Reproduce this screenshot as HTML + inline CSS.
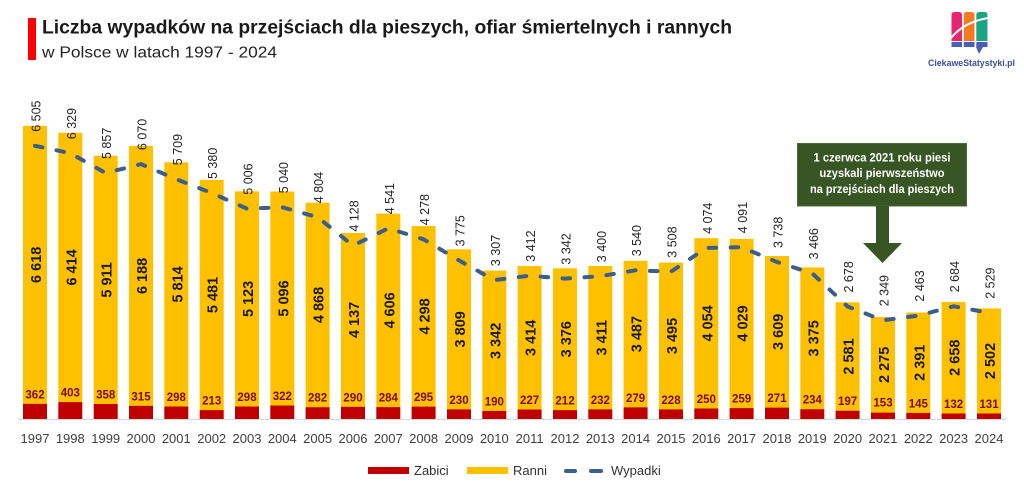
<!DOCTYPE html>
<html><head><meta charset="utf-8"><style>
html,body{margin:0;padding:0;background:#fff;}
svg{display:block;}
text{font-family:"Liberation Sans",sans-serif;}
.w{font-size:12.5px;fill:#262626;}
.r{font-size:14.5px;font-weight:bold;fill:#1a1a1a;text-anchor:middle;}
.z{font-size:11.5px;font-weight:bold;fill:#7a0c0c;text-anchor:middle;}
.y{font-size:13px;fill:#404040;text-anchor:middle;}
</style></head><body>
<svg width="1024" height="494" viewBox="0 0 1024 494" xmlns="http://www.w3.org/2000/svg">
<rect width="1024" height="494" fill="#fff"/>
<!-- title -->
<rect x="28" y="18" width="8" height="42" fill="#ff0000"/>
<text x="42" y="33.3" font-size="19" font-weight="bold" fill="#1a1a1a" textLength="690" lengthAdjust="spacingAndGlyphs">Liczba wypadków na przejściach dla pieszych, ofiar śmiertelnych i rannych</text>
<text x="42" y="57.3" font-size="16" fill="#222" textLength="235" lengthAdjust="spacingAndGlyphs">w Polsce w latach 1997 - 2024</text>
<!-- logo -->
<g>
<path d="M951.5 41 V15 Q951.5 12 954.5 12 H959 Q962 12 962 15 V41 Z" fill="#e5256f"/>
<path d="M963.8 41 V15 Q963.8 12 966.8 12 H971.5 Q974.5 12 974.5 15 V41 Z" fill="#f47b20"/>
<path d="M976.3 41 V15 Q976.3 12 979.3 12 H984.5 Q987.5 12 987.5 15 V41 Z" fill="#1aa585"/>
<rect x="951.5" y="42" width="10.5" height="5" fill="#4a5fb5"/>
<rect x="963.8" y="42" width="10.7" height="5" fill="#4a5fb5"/>
<rect x="976.3" y="42" width="11.2" height="5" fill="#4a5fb5"/>
<path d="M976 47 L983 47 L979 54 Z" fill="#4a5fb5"/>
<path d="M951 38 Q964 22 988 18" stroke="#fff" stroke-width="2" fill="none"/>
<text x="928" y="66" font-size="9.5" font-weight="bold" fill="#3d4f9a" textLength="87" lengthAdjust="spacingAndGlyphs">CiekaweStatystyki.pl</text>
</g>
<!-- axis -->
<line x1="18" y1="419.5" x2="1006" y2="419.5" stroke="#d9d9d9" stroke-width="1"/>
<!-- yellow bars -->
<g fill="#ffc000">
<rect x="23" y="125.8" width="24" height="278"/>
<rect x="58.3" y="132.7" width="24" height="269.4"/>
<rect x="93.7" y="155.7" width="24" height="248.3"/>
<rect x="129" y="145.9" width="24" height="259.9"/>
<rect x="164.3" y="162.3" width="24" height="244.2"/>
<rect x="199.7" y="179.9" width="24" height="230.2"/>
<rect x="235" y="191.3" width="24" height="215.2"/>
<rect x="270.3" y="191.5" width="24" height="214"/>
<rect x="305.6" y="202.7" width="24" height="204.5"/>
<rect x="341" y="233" width="24" height="173.8"/>
<rect x="376.3" y="213.6" width="24" height="193.5"/>
<rect x="411.6" y="226.1" width="24" height="180.5"/>
<rect x="447" y="249.3" width="24" height="160"/>
<rect x="482.3" y="270.6" width="24" height="140.4"/>
<rect x="517.6" y="266.1" width="24" height="143.4"/>
<rect x="553" y="268.3" width="24" height="141.8"/>
<rect x="588.3" y="266" width="24" height="143.3"/>
<rect x="623.6" y="260.8" width="24" height="146.5"/>
<rect x="659" y="262.6" width="24" height="146.8"/>
<rect x="694.3" y="238.2" width="24" height="170.3"/>
<rect x="729.6" y="238.9" width="24" height="169.2"/>
<rect x="765" y="256" width="24" height="151.6"/>
<rect x="800.3" y="267.4" width="24" height="141.8"/>
<rect x="835.6" y="302.3" width="24" height="108.4"/>
<rect x="871" y="317" width="24" height="95.6"/>
<rect x="906.3" y="312.5" width="24" height="100.4"/>
<rect x="941.6" y="301.9" width="24" height="111.6"/>
<rect x="977" y="308.4" width="24" height="105.1"/>
</g>
<!-- red bars -->
<g fill="#c00000">
<rect x="23" y="403.8" width="24" height="15.2"/>
<rect x="58.3" y="402.1" width="24" height="16.9"/>
<rect x="93.7" y="404" width="24" height="15"/>
<rect x="129" y="405.8" width="24" height="13.2"/>
<rect x="164.3" y="406.5" width="24" height="12.5"/>
<rect x="199.7" y="410.1" width="24" height="8.9"/>
<rect x="235" y="406.5" width="24" height="12.5"/>
<rect x="270.3" y="405.5" width="24" height="13.5"/>
<rect x="305.6" y="407.2" width="24" height="11.8"/>
<rect x="341" y="406.8" width="24" height="12.2"/>
<rect x="376.3" y="407.1" width="24" height="11.9"/>
<rect x="411.6" y="406.6" width="24" height="12.4"/>
<rect x="447" y="409.3" width="24" height="9.7"/>
<rect x="482.3" y="411" width="24" height="8"/>
<rect x="517.6" y="409.5" width="24" height="9.5"/>
<rect x="553" y="410.1" width="24" height="8.9"/>
<rect x="588.3" y="409.3" width="24" height="9.7"/>
<rect x="623.6" y="407.3" width="24" height="11.7"/>
<rect x="659" y="409.4" width="24" height="9.6"/>
<rect x="694.3" y="408.5" width="24" height="10.5"/>
<rect x="729.6" y="408.1" width="24" height="10.9"/>
<rect x="765" y="407.6" width="24" height="11.4"/>
<rect x="800.3" y="409.2" width="24" height="9.8"/>
<rect x="835.6" y="410.7" width="24" height="8.3"/>
<rect x="871" y="412.6" width="24" height="6.4"/>
<rect x="906.3" y="412.9" width="24" height="6.1"/>
<rect x="941.6" y="413.5" width="24" height="5.5"/>
<rect x="977" y="413.5" width="24" height="5.5"/>
</g>
<!-- wypadki line -->
<polyline fill="none" stroke="#3b5e8c" stroke-width="4" stroke-linecap="round" stroke-dasharray="7.5 14.5" points="35,145.8 70.3,153.2 105.7,173 141,164.1 176.3,179.2 211.7,193 247,208.7 282.3,207.3 317.6,217.2 353,245.6 388.3,228.3 423.6,239.3 459,260.4 494.3,280.1 529.6,275.7 565,278.6 600.3,276.2 635.6,270.3 671,271.7 706.3,247.9 741.6,247.2 777,262 812.3,273.4 847.6,306.5 883,320.3 918.3,315.6 953.6,306.3 989,312.8"/>
<!-- wypadki labels -->
<text class="w" transform="translate(40.5,131.8) rotate(-90)">6 505</text>
<text class="w" transform="translate(75.8,139.2) rotate(-90)">6 329</text>
<text class="w" transform="translate(111.2,159) rotate(-90)">5 857</text>
<text class="w" transform="translate(146.5,150.1) rotate(-90)">6 070</text>
<text class="w" transform="translate(181.8,165.2) rotate(-90)">5 709</text>
<text class="w" transform="translate(217.2,179) rotate(-90)">5 380</text>
<text class="w" transform="translate(252.5,194.7) rotate(-90)">5 006</text>
<text class="w" transform="translate(287.8,193.3) rotate(-90)">5 040</text>
<text class="w" transform="translate(323.1,203.2) rotate(-90)">4 804</text>
<text class="w" transform="translate(358.5,231.6) rotate(-90)">4 128</text>
<text class="w" transform="translate(393.8,214.3) rotate(-90)">4 541</text>
<text class="w" transform="translate(429.1,225.3) rotate(-90)">4 278</text>
<text class="w" transform="translate(464.5,246.4) rotate(-90)">3 775</text>
<text class="w" transform="translate(499.8,266.1) rotate(-90)">3 307</text>
<text class="w" transform="translate(535.1,261.7) rotate(-90)">3 412</text>
<text class="w" transform="translate(570.5,264.6) rotate(-90)">3 342</text>
<text class="w" transform="translate(605.8,262.2) rotate(-90)">3 400</text>
<text class="w" transform="translate(641.1,256.3) rotate(-90)">3 540</text>
<text class="w" transform="translate(676.5,257.7) rotate(-90)">3 508</text>
<text class="w" transform="translate(711.8,233.9) rotate(-90)">4 074</text>
<text class="w" transform="translate(747.1,233.2) rotate(-90)">4 091</text>
<text class="w" transform="translate(782.5,248) rotate(-90)">3 738</text>
<text class="w" transform="translate(817.8,259.4) rotate(-90)">3 466</text>
<text class="w" transform="translate(853.1,292.5) rotate(-90)">2 678</text>
<text class="w" transform="translate(888.5,306.3) rotate(-90)">2 349</text>
<text class="w" transform="translate(923.8,301.6) rotate(-90)">2 463</text>
<text class="w" transform="translate(959.1,292.3) rotate(-90)">2 684</text>
<text class="w" transform="translate(994.5,298.8) rotate(-90)">2 529</text>
<!-- ranni labels -->
<text class="r" transform="translate(41,264.8) rotate(-90)">6 618</text>
<text class="r" transform="translate(76.3,267.4) rotate(-90)">6 414</text>
<text class="r" transform="translate(111.7,279.9) rotate(-90)">5 911</text>
<text class="r" transform="translate(147,275.9) rotate(-90)">6 188</text>
<text class="r" transform="translate(182.3,284.4) rotate(-90)">5 814</text>
<text class="r" transform="translate(217.7,295) rotate(-90)">5 481</text>
<text class="r" transform="translate(253,298.9) rotate(-90)">5 123</text>
<text class="r" transform="translate(288.3,298.5) rotate(-90)">5 096</text>
<text class="r" transform="translate(323.6,305) rotate(-90)">4 868</text>
<text class="r" transform="translate(359,319.9) rotate(-90)">4 137</text>
<text class="r" transform="translate(394.3,310.4) rotate(-90)">4 606</text>
<text class="r" transform="translate(429.6,316.4) rotate(-90)">4 298</text>
<text class="r" transform="translate(465,329.3) rotate(-90)">3 809</text>
<text class="r" transform="translate(500.3,340.8) rotate(-90)">3 342</text>
<text class="r" transform="translate(535.6,337.8) rotate(-90)">3 414</text>
<text class="r" transform="translate(571,339.2) rotate(-90)">3 376</text>
<text class="r" transform="translate(606.3,337.7) rotate(-90)">3 411</text>
<text class="r" transform="translate(641.6,334.1) rotate(-90)">3 487</text>
<text class="r" transform="translate(677,336) rotate(-90)">3 495</text>
<text class="r" transform="translate(712.3,323.4) rotate(-90)">4 054</text>
<text class="r" transform="translate(747.6,323.5) rotate(-90)">4 029</text>
<text class="r" transform="translate(783,331.8) rotate(-90)">3 609</text>
<text class="r" transform="translate(818.3,338.3) rotate(-90)">3 375</text>
<text class="r" transform="translate(853.6,356.5) rotate(-90)">2 581</text>
<text class="r" transform="translate(889,364.8) rotate(-90)">2 275</text>
<text class="r" transform="translate(924.3,362.7) rotate(-90)">2 391</text>
<text class="r" transform="translate(959.6,357.7) rotate(-90)">2 658</text>
<text class="r" transform="translate(995,361) rotate(-90)">2 502</text>
<!-- zabici labels -->
<text class="z" x="35" y="398.3">362</text>
<text class="z" x="70.3" y="396.6">403</text>
<text class="z" x="105.7" y="398.5">358</text>
<text class="z" x="141" y="400.3">315</text>
<text class="z" x="176.3" y="401">298</text>
<text class="z" x="211.7" y="404.6">213</text>
<text class="z" x="247" y="401">298</text>
<text class="z" x="282.3" y="400">322</text>
<text class="z" x="317.6" y="401.7">282</text>
<text class="z" x="353" y="401.3">290</text>
<text class="z" x="388.3" y="401.6">284</text>
<text class="z" x="423.6" y="401.1">295</text>
<text class="z" x="459" y="403.8">230</text>
<text class="z" x="494.3" y="405.5">190</text>
<text class="z" x="529.6" y="404">227</text>
<text class="z" x="565" y="404.6">212</text>
<text class="z" x="600.3" y="403.8">232</text>
<text class="z" x="635.6" y="401.8">279</text>
<text class="z" x="671" y="403.9">228</text>
<text class="z" x="706.3" y="403">250</text>
<text class="z" x="741.6" y="402.6">259</text>
<text class="z" x="777" y="402.1">271</text>
<text class="z" x="812.3" y="403.7">234</text>
<text class="z" x="847.6" y="405.2">197</text>
<text class="z" x="883" y="406.5">153</text>
<text class="z" x="918.3" y="407.4">145</text>
<text class="z" x="953.6" y="408">132</text>
<text class="z" x="989" y="408">131</text>
<!-- years -->
<text class="y" x="35" y="443">1997</text>
<text class="y" x="70.3" y="443">1998</text>
<text class="y" x="105.7" y="443">1999</text>
<text class="y" x="141" y="443">2000</text>
<text class="y" x="176.3" y="443">2001</text>
<text class="y" x="211.7" y="443">2002</text>
<text class="y" x="247" y="443">2003</text>
<text class="y" x="282.3" y="443">2004</text>
<text class="y" x="317.6" y="443">2005</text>
<text class="y" x="353" y="443">2006</text>
<text class="y" x="388.3" y="443">2007</text>
<text class="y" x="423.6" y="443">2008</text>
<text class="y" x="459" y="443">2009</text>
<text class="y" x="494.3" y="443">2010</text>
<text class="y" x="529.6" y="443">2011</text>
<text class="y" x="565" y="443">2012</text>
<text class="y" x="600.3" y="443">2013</text>
<text class="y" x="635.6" y="443">2014</text>
<text class="y" x="671" y="443">2015</text>
<text class="y" x="706.3" y="443">2016</text>
<text class="y" x="741.6" y="443">2017</text>
<text class="y" x="777" y="443">2018</text>
<text class="y" x="812.3" y="443">2019</text>
<text class="y" x="847.6" y="443">2020</text>
<text class="y" x="883" y="443">2021</text>
<text class="y" x="918.3" y="443">2022</text>
<text class="y" x="953.6" y="443">2023</text>
<text class="y" x="989" y="443">2024</text>
<!-- annotation -->
<rect x="797.5" y="143.5" width="169" height="62.5" fill="#375623" stroke="#4a6b35" stroke-width="1"/>
<polygon points="876,206 889,206 889,243 902,243 882.5,263 863,243 876,243" fill="#375623"/>
<g font-size="11.5" font-weight="bold" fill="#ffffff" text-anchor="middle">
<text x="882" y="161.5" textLength="137" lengthAdjust="spacingAndGlyphs">1 czerwca 2021 roku piesi</text>
<text x="882" y="177" textLength="125" lengthAdjust="spacingAndGlyphs">uzyskali pierwszeństwo</text>
<text x="882" y="193" textLength="144" lengthAdjust="spacingAndGlyphs">na przejściach dla pieszych</text>
</g>
<!-- legend -->
<rect x="368" y="467" width="41" height="7" fill="#c00000"/>
<text x="414" y="475" font-size="13" fill="#333">Zabici</text>
<rect x="467" y="467" width="41" height="7" fill="#ffc000"/>
<text x="513" y="475" font-size="13" fill="#333">Ranni</text>
<line x1="566" y1="471" x2="575" y2="471" stroke="#3b5e8c" stroke-width="4" stroke-linecap="round"/>
<line x1="591" y1="471" x2="601" y2="471" stroke="#3b5e8c" stroke-width="4" stroke-linecap="round"/>
<text x="611" y="475" font-size="13" fill="#333">Wypadki</text>
</svg>
</body></html>
